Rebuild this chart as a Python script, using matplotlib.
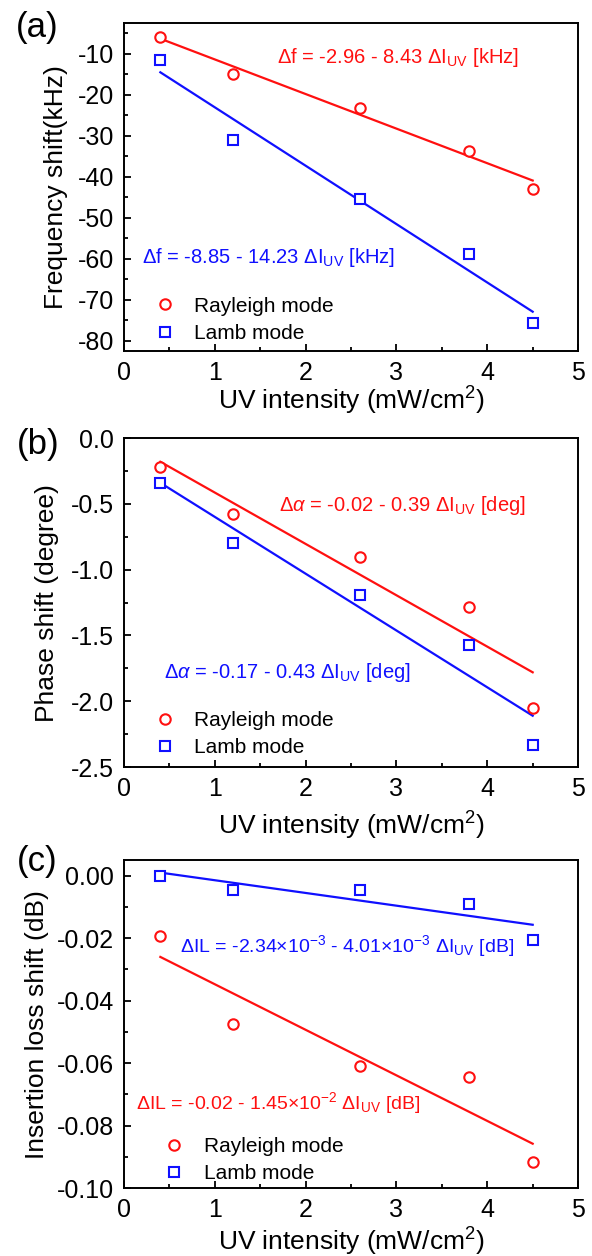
import numpy as np
import matplotlib
matplotlib.use("Agg")
import matplotlib.pyplot as plt

plt.rcParams['font.family'] = ['Liberation Sans', 'DejaVu Sans']
plt.rcParams['mathtext.fontset'] = 'custom'
plt.rcParams['mathtext.rm'] = 'Liberation Sans'
plt.rcParams['mathtext.it'] = 'Liberation Sans:italic'
plt.rcParams['mathtext.bf'] = 'Liberation Sans:bold'
plt.rcParams['axes.unicode_minus'] = False

# UV intensity (mW/cm^2)
uv = [0.4, 1.2, 2.6, 3.8, 4.5]
fit_x = [0.4, 4.5]

# (a) frequency shift, kHz
freq_rayleigh = [-5.9, -14.9, -23.2, -33.6, -42.9]
freq_lamb = [-11.6, -30.9, -45.5, -58.9, -75.6]
freq_fit_rayleigh = [-6.3, -40.9]
freq_fit_lamb = [-14.5, -72.9]

# (b) phase shift, degree
phase_rayleigh = [-0.22, -0.58, -0.90, -1.28, -2.05]
phase_lamb = [-0.34, -0.80, -1.19, -1.57, -2.33]
phase_fit_rayleigh = [-0.18, -1.78]
phase_fit_lamb = [-0.34, -2.11]

# (c) insertion loss shift, dB
il_rayleigh = [-0.0194, -0.0474, -0.0610, -0.0645, -0.0918]
il_lamb = [0.0, -0.0045, -0.0045, -0.0091, -0.0205]
il_fit_rayleigh = [-0.026, -0.0858]
il_fit_lamb = [0.001, -0.0157]

RED = '#ff1010'
BLUE = '#1010ff'

fig = plt.figure(figsize=(5.92, 12.56), dpi=100)

panels = [
    dict(rect=[0.2095, 0.7205, 0.767, 0.2611], tag='(a)', tagpos=(37, 27),
         r=freq_rayleigh, l=freq_lamb, fr=freq_fit_rayleigh, fl=freq_fit_lamb,
         ylim=(-82.5, -2.5), major=10, minor=5, fmt='%d',
         ylabel='Frequency shift(kHz)', ylx=-0.123, xly=-0.104, eqsize=14.5,
         eq_r=r'$\mathit{\Delta}$f = -2.96 - 8.43 $\mathit{\Delta}\mathrm{I}_{\mathrm{UV}}$ [kHz]',
         eq_r_pos=(0.337, 0.878),
         eq_l=r'$\mathit{\Delta}$f = -8.85 - 14.23 $\mathit{\Delta}\mathrm{I}_{\mathrm{UV}}$ [kHz]',
         eq_l_pos=(0.04, 0.27), leg=(0.068, 0.025)),
    dict(rect=[0.2095, 0.3893, 0.767, 0.2619], tag='(b)', tagpos=(38, 445),
         r=phase_rayleigh, l=phase_lamb, fr=phase_fit_rayleigh, fl=phase_fit_lamb,
         ylim=(-2.5, 0.0), major=0.5, minor=0.25, fmt='%.1f',
         ylabel='Phase shift (degree)', ylx=-0.143, xly=-0.13, eqsize=14.5,
         eq_r=r'$\mathit{\Delta\alpha}$ = -0.02 - 0.39 $\mathit{\Delta}\mathrm{I}_{\mathrm{UV}}$ [deg]',
         eq_r_pos=(0.342, 0.779),
         eq_l=r'$\mathit{\Delta\alpha}$ = -0.17 - 0.43 $\mathit{\Delta}\mathrm{I}_{\mathrm{UV}}$ [deg]',
         eq_l_pos=(0.089, 0.27), leg=(0.068, 0.03)),
    dict(rect=[0.2095, 0.0541, 0.767, 0.2611], tag='(c)', tagpos=(37, 861),
         r=il_rayleigh, l=il_lamb, fr=il_fit_rayleigh, fl=il_fit_lamb,
         ylim=(-0.1, 0.005), major=0.02, minor=0.01, fmt='%.2f',
         ylabel='Insertion loss shift (dB)', ylx=-0.165, xly=-0.116, eqsize=14,
         eq_r=r'$\mathit{\Delta}$IL = -0.02 - 1.45$\times$10$^{-2}$ $\mathit{\Delta}\mathrm{I}_{\mathrm{UV}}$ [dB]',
         eq_r_pos=(0.027, 0.24),
         eq_l=r'$\mathit{\Delta}$IL = -2.34$\times$10$^{-3}$ - 4.01$\times$10$^{-3}$ $\mathit{\Delta}\mathrm{I}_{\mathrm{UV}}$ [dB]',
         eq_l_pos=(0.123, 0.72), leg=(0.088, 0.015)),
]

for p in panels:
    ax = fig.add_axes(p['rect'])
    ax.plot(fit_x, p['fr'], color=RED, lw=1.6)
    ax.plot(fit_x, p['fl'], color=BLUE, lw=1.6)
    ax.plot(uv, p['r'], 'o', mfc='white', mec=RED, mew=1.5, ms=7.5, label='Rayleigh mode')
    ax.plot(uv, p['l'], 's', mfc='white', mec=BLUE, mew=1.5, ms=6.5, label='Lamb mode')
    ax.set_xlim(0, 5)
    ax.set_ylim(*p['ylim'])
    ax.xaxis.set_major_locator(matplotlib.ticker.MultipleLocator(1))
    ax.xaxis.set_minor_locator(matplotlib.ticker.MultipleLocator(0.5))
    ax.yaxis.set_major_locator(matplotlib.ticker.MultipleLocator(p['major']))
    ax.yaxis.set_minor_locator(matplotlib.ticker.MultipleLocator(p['minor']))
    fmt = p['fmt']
    ax.yaxis.set_major_formatter(matplotlib.ticker.FuncFormatter(
        lambda v, pos, fmt=fmt: fmt % (round(v, 6) + 0.0)))
    ax.tick_params(which='both', direction='in', top=False, right=False, width=1.3)
    ax.tick_params(which='major', length=5, labelsize=18, pad=7)
    ax.tick_params(which='minor', length=3)
    for s in ax.spines.values():
        s.set_linewidth(1.4)
    ax.set_xlabel('UV intensity (mW/cm$^2$)', fontsize=19)
    ax.set_ylabel(p['ylabel'], fontsize=19)
    ax.xaxis.set_label_coords(0.5, p['xly'])
    ax.yaxis.set_label_coords(p['ylx'], 0.5)
    ax.text(*p['eq_r_pos'], p['eq_r'], color=RED, fontsize=p['eqsize'],
            transform=ax.transAxes, va='baseline')
    ax.text(*p['eq_l_pos'], p['eq_l'], color=BLUE, fontsize=p['eqsize'],
            transform=ax.transAxes, va='baseline')
    ax.legend(loc='lower left', bbox_to_anchor=p['leg'], frameon=False, fontsize=15,
              handlelength=1.0, handletextpad=0.9, labelspacing=0.4, borderpad=0, borderaxespad=0)
    fig.text(p['tagpos'][0] / 592, 1 - p['tagpos'][1] / 1256, p['tag'], fontsize=25,
             ha='center', va='center')

fig.savefig('out.png', dpi=100)
